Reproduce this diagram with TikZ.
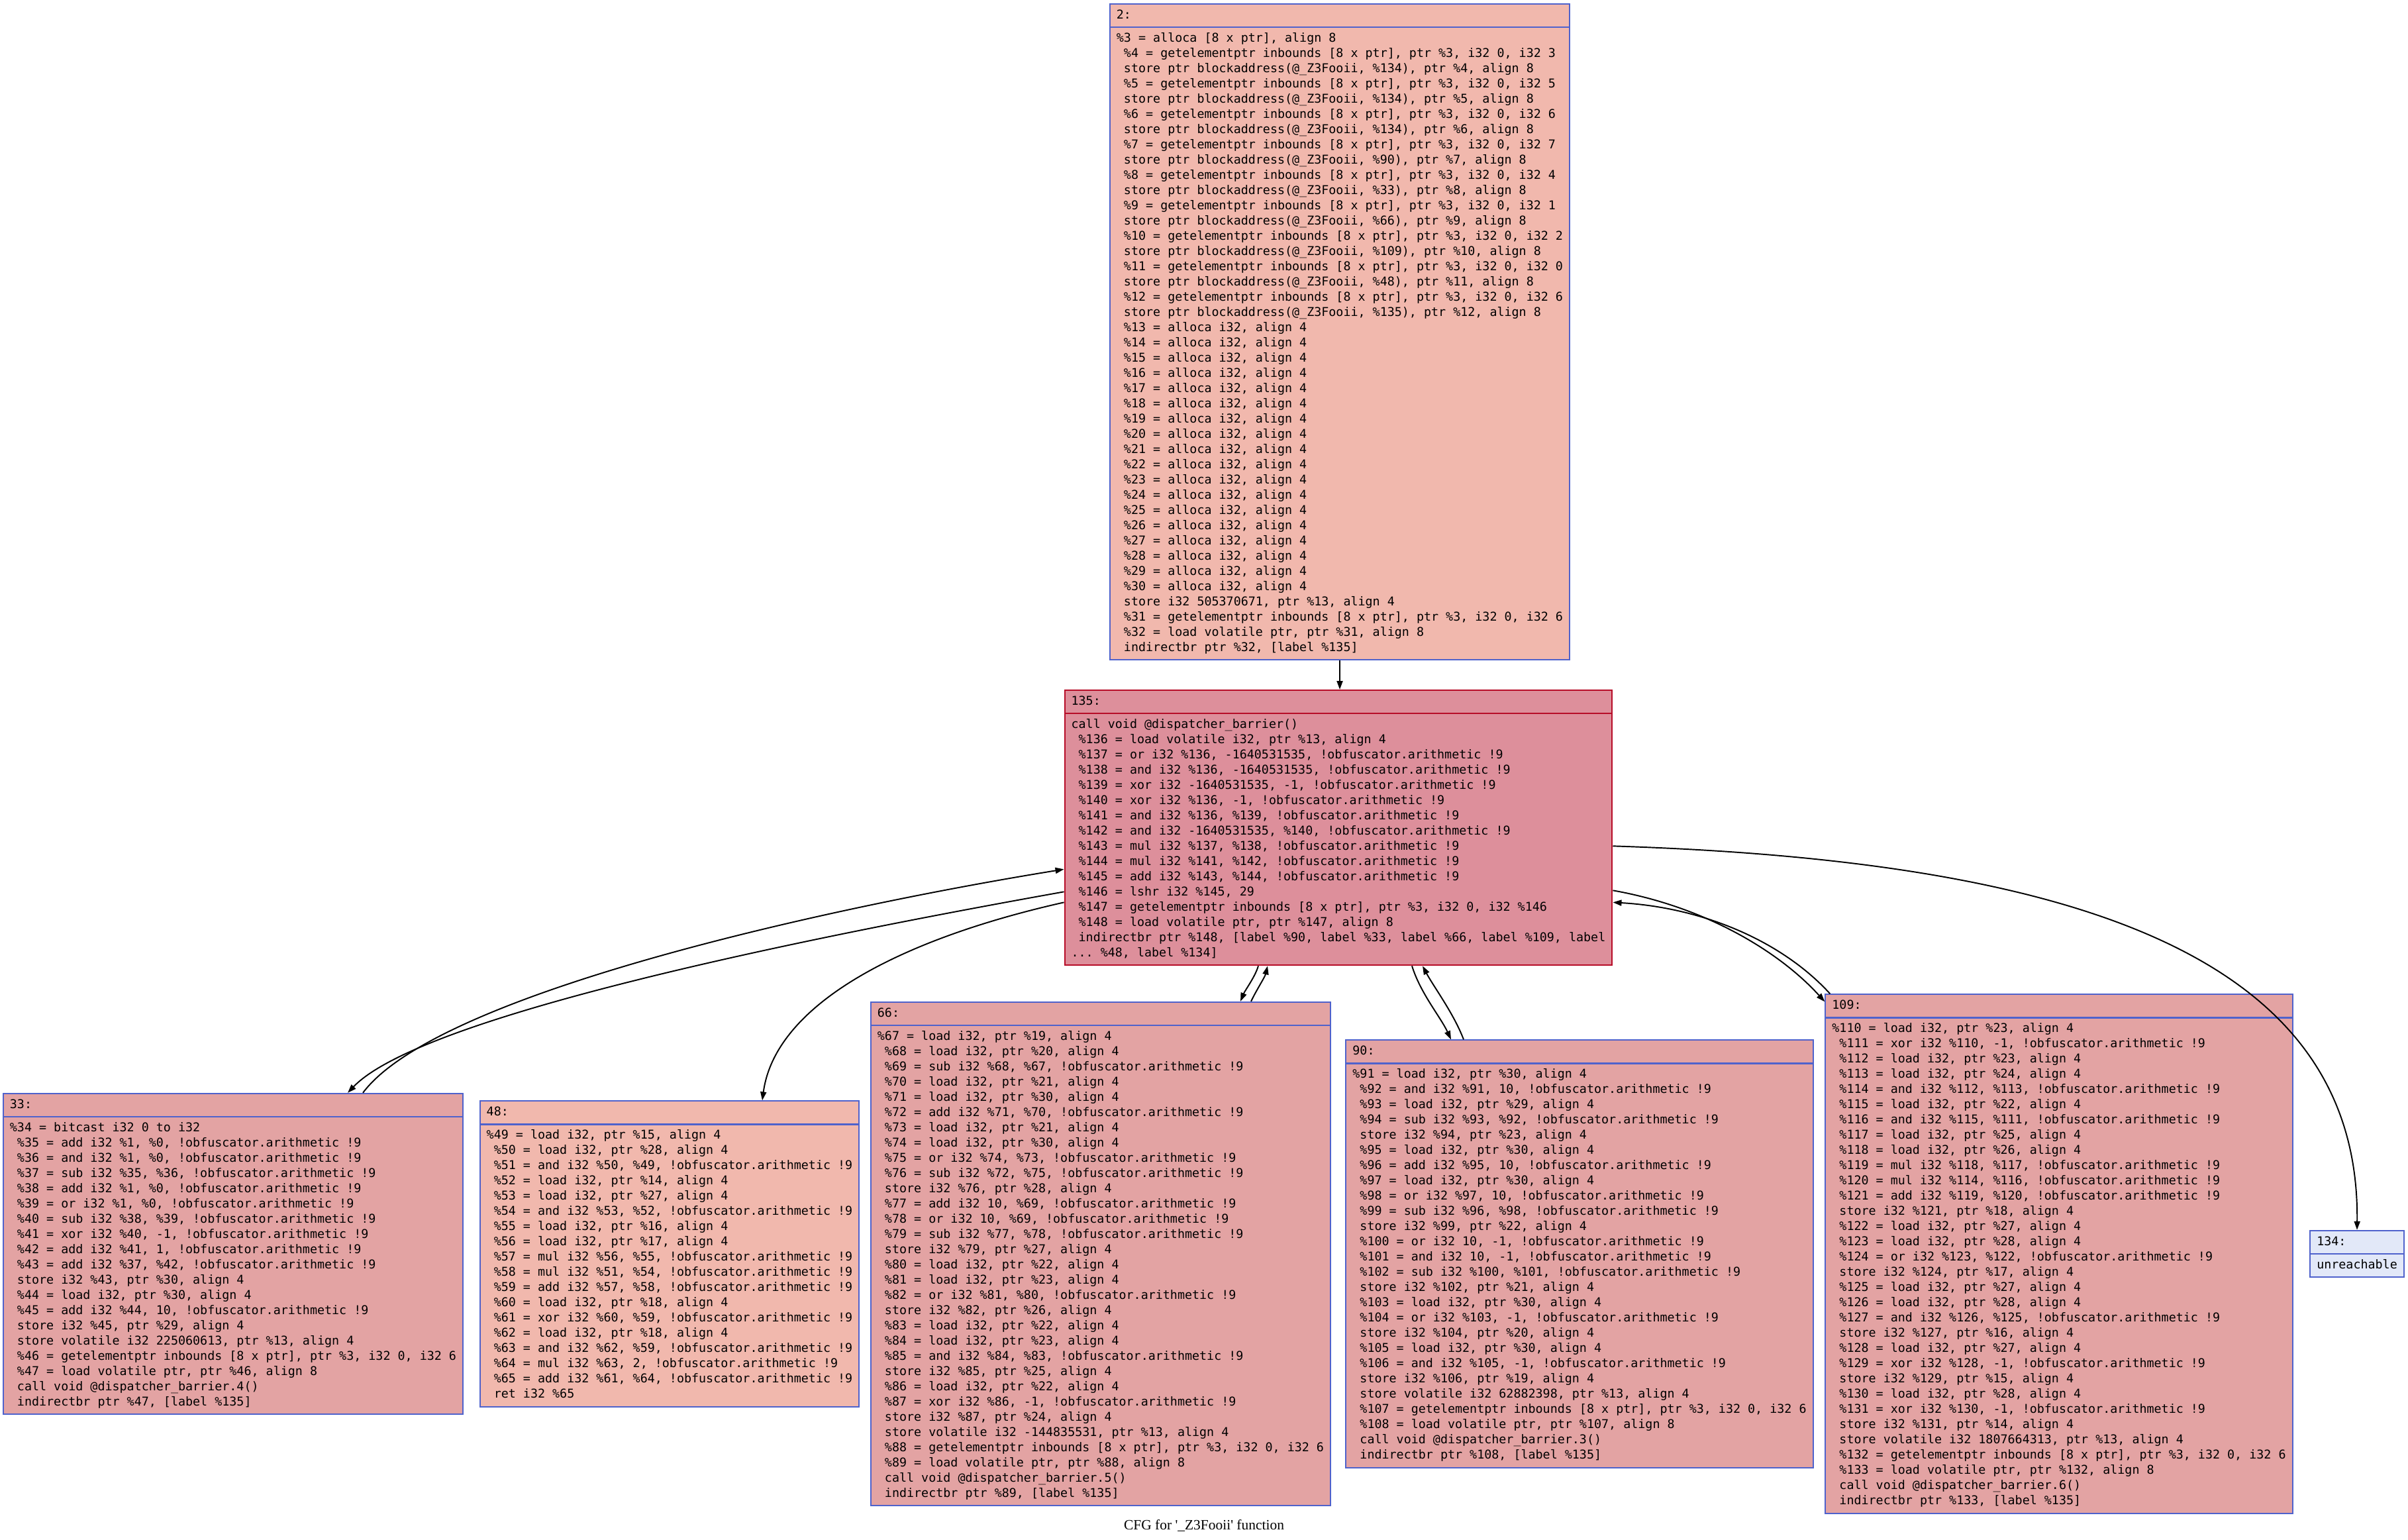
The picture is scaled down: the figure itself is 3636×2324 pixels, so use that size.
\documentclass[tikz,border=0pt]{standalone}
\usepackage{fontspec}
\setmonofont{DejaVu Sans Mono}
\newfontfamily\capfont{Liberation Serif}
\usetikzlibrary{shapes.multipart,arrows.meta,calc}
\definecolor{fillA}{HTML}{F1B8AD}
\definecolor{fillB}{HTML}{E3A3A3}
\definecolor{fillC}{HTML}{DD8F9B}
\definecolor{fillD}{HTML}{E2E8F8}
\definecolor{lineA}{HTML}{4F62CC}
\definecolor{lineC}{HTML}{B70D28}
\newcommand\irfont{\ttfamily\fontsize{5.22pt}{6.54pt}\selectfont}
\begin{document}
\begin{tikzpicture}[x=0.01cm,y=-0.01cm,
  bb/.style={rectangle split,rectangle split parts=2,rectangle split part align=left,
    align=left,draw=lineA,fill=#1,line width=0.6pt,inner xsep=0.1cm,inner ysep=0.05cm,font=\irfont},
  edge/.style={-{Triangle[length=0.13cm,width=0.09cm]},line width=0.55pt}]
\useasboundingbox (0,0) rectangle (3636,2324);
\node[bb=fillA,anchor=north] (b2) at (2023,5) {\strut 2:\nodepart{two}\strut\%3 = alloca [8 x ptr], align 8\\
\ \%4 = getelementptr inbounds [8 x ptr], ptr \%3, i32 0, i32 3\\
\ store ptr blockaddress(@\_Z3Fooii, \%134), ptr \%4, align 8\\
\ \%5 = getelementptr inbounds [8 x ptr], ptr \%3, i32 0, i32 5\\
\ store ptr blockaddress(@\_Z3Fooii, \%134), ptr \%5, align 8\\
\ \%6 = getelementptr inbounds [8 x ptr], ptr \%3, i32 0, i32 6\\
\ store ptr blockaddress(@\_Z3Fooii, \%134), ptr \%6, align 8\\
\ \%7 = getelementptr inbounds [8 x ptr], ptr \%3, i32 0, i32 7\\
\ store ptr blockaddress(@\_Z3Fooii, \%90), ptr \%7, align 8\\
\ \%8 = getelementptr inbounds [8 x ptr], ptr \%3, i32 0, i32 4\\
\ store ptr blockaddress(@\_Z3Fooii, \%33), ptr \%8, align 8\\
\ \%9 = getelementptr inbounds [8 x ptr], ptr \%3, i32 0, i32 1\\
\ store ptr blockaddress(@\_Z3Fooii, \%66), ptr \%9, align 8\\
\ \%10 = getelementptr inbounds [8 x ptr], ptr \%3, i32 0, i32 2\\
\ store ptr blockaddress(@\_Z3Fooii, \%109), ptr \%10, align 8\\
\ \%11 = getelementptr inbounds [8 x ptr], ptr \%3, i32 0, i32 0\\
\ store ptr blockaddress(@\_Z3Fooii, \%48), ptr \%11, align 8\\
\ \%12 = getelementptr inbounds [8 x ptr], ptr \%3, i32 0, i32 6\\
\ store ptr blockaddress(@\_Z3Fooii, \%135), ptr \%12, align 8\\
\ \%13 = alloca i32, align 4\\
\ \%14 = alloca i32, align 4\\
\ \%15 = alloca i32, align 4\\
\ \%16 = alloca i32, align 4\\
\ \%17 = alloca i32, align 4\\
\ \%18 = alloca i32, align 4\\
\ \%19 = alloca i32, align 4\\
\ \%20 = alloca i32, align 4\\
\ \%21 = alloca i32, align 4\\
\ \%22 = alloca i32, align 4\\
\ \%23 = alloca i32, align 4\\
\ \%24 = alloca i32, align 4\\
\ \%25 = alloca i32, align 4\\
\ \%26 = alloca i32, align 4\\
\ \%27 = alloca i32, align 4\\
\ \%28 = alloca i32, align 4\\
\ \%29 = alloca i32, align 4\\
\ \%30 = alloca i32, align 4\\
\ store i32 505370671, ptr \%13, align 4\\
\ \%31 = getelementptr inbounds [8 x ptr], ptr \%3, i32 0, i32 6\\
\ \%32 = load volatile ptr, ptr \%31, align 8\\
\ indirectbr ptr \%32, [label \%135]\strut};
\node[bb=fillC,draw=lineC,anchor=north] (b135) at (2021,1041) {\strut 135:\nodepart{two}\strut call void @dispatcher\_barrier()\\
\ \%136 = load volatile i32, ptr \%13, align 4\\
\ \%137 = or i32 \%136, -1640531535, !obfuscator.arithmetic !9\\
\ \%138 = and i32 \%136, -1640531535, !obfuscator.arithmetic !9\\
\ \%139 = xor i32 -1640531535, -1, !obfuscator.arithmetic !9\\
\ \%140 = xor i32 \%136, -1, !obfuscator.arithmetic !9\\
\ \%141 = and i32 \%136, \%139, !obfuscator.arithmetic !9\\
\ \%142 = and i32 -1640531535, \%140, !obfuscator.arithmetic !9\\
\ \%143 = mul i32 \%137, \%138, !obfuscator.arithmetic !9\\
\ \%144 = mul i32 \%141, \%142, !obfuscator.arithmetic !9\\
\ \%145 = add i32 \%143, \%144, !obfuscator.arithmetic !9\\
\ \%146 = lshr i32 \%145, 29\\
\ \%147 = getelementptr inbounds [8 x ptr], ptr \%3, i32 0, i32 \%146\\
\ \%148 = load volatile ptr, ptr \%147, align 8\\
\ indirectbr ptr \%148, [label \%90, label \%33, label \%66, label \%109, label\\
... \%48, label \%134]\strut};
\node[bb=fillB] (b33) at (352,1893) {\strut 33:\nodepart{two}\strut\%34 = bitcast i32 0 to i32\\
\ \%35 = add i32 \%1, \%0, !obfuscator.arithmetic !9\\
\ \%36 = and i32 \%1, \%0, !obfuscator.arithmetic !9\\
\ \%37 = sub i32 \%35, \%36, !obfuscator.arithmetic !9\\
\ \%38 = add i32 \%1, \%0, !obfuscator.arithmetic !9\\
\ \%39 = or i32 \%1, \%0, !obfuscator.arithmetic !9\\
\ \%40 = sub i32 \%38, \%39, !obfuscator.arithmetic !9\\
\ \%41 = xor i32 \%40, -1, !obfuscator.arithmetic !9\\
\ \%42 = add i32 \%41, 1, !obfuscator.arithmetic !9\\
\ \%43 = add i32 \%37, \%42, !obfuscator.arithmetic !9\\
\ store i32 \%43, ptr \%30, align 4\\
\ \%44 = load i32, ptr \%30, align 4\\
\ \%45 = add i32 \%44, 10, !obfuscator.arithmetic !9\\
\ store i32 \%45, ptr \%29, align 4\\
\ store volatile i32 225060613, ptr \%13, align 4\\
\ \%46 = getelementptr inbounds [8 x ptr], ptr \%3, i32 0, i32 6\\
\ \%47 = load volatile ptr, ptr \%46, align 8\\
\ call void @dispatcher\_barrier.4()\\
\ indirectbr ptr \%47, [label \%135]\strut};
\node[bb=fillA] (b48) at (1011,1893) {\strut 48:\nodepart{two}\strut\%49 = load i32, ptr \%15, align 4\\
\ \%50 = load i32, ptr \%28, align 4\\
\ \%51 = and i32 \%50, \%49, !obfuscator.arithmetic !9\\
\ \%52 = load i32, ptr \%14, align 4\\
\ \%53 = load i32, ptr \%27, align 4\\
\ \%54 = and i32 \%53, \%52, !obfuscator.arithmetic !9\\
\ \%55 = load i32, ptr \%16, align 4\\
\ \%56 = load i32, ptr \%17, align 4\\
\ \%57 = mul i32 \%56, \%55, !obfuscator.arithmetic !9\\
\ \%58 = mul i32 \%51, \%54, !obfuscator.arithmetic !9\\
\ \%59 = add i32 \%57, \%58, !obfuscator.arithmetic !9\\
\ \%60 = load i32, ptr \%18, align 4\\
\ \%61 = xor i32 \%60, \%59, !obfuscator.arithmetic !9\\
\ \%62 = load i32, ptr \%18, align 4\\
\ \%63 = and i32 \%62, \%59, !obfuscator.arithmetic !9\\
\ \%64 = mul i32 \%63, 2, !obfuscator.arithmetic !9\\
\ \%65 = add i32 \%61, \%64, !obfuscator.arithmetic !9\\
\ ret i32 \%65\strut};
\node[bb=fillB] (b66) at (1662,1893) {\strut 66:\nodepart{two}\strut\%67 = load i32, ptr \%19, align 4\\
\ \%68 = load i32, ptr \%20, align 4\\
\ \%69 = sub i32 \%68, \%67, !obfuscator.arithmetic !9\\
\ \%70 = load i32, ptr \%21, align 4\\
\ \%71 = load i32, ptr \%30, align 4\\
\ \%72 = add i32 \%71, \%70, !obfuscator.arithmetic !9\\
\ \%73 = load i32, ptr \%21, align 4\\
\ \%74 = load i32, ptr \%30, align 4\\
\ \%75 = or i32 \%74, \%73, !obfuscator.arithmetic !9\\
\ \%76 = sub i32 \%72, \%75, !obfuscator.arithmetic !9\\
\ store i32 \%76, ptr \%28, align 4\\
\ \%77 = add i32 10, \%69, !obfuscator.arithmetic !9\\
\ \%78 = or i32 10, \%69, !obfuscator.arithmetic !9\\
\ \%79 = sub i32 \%77, \%78, !obfuscator.arithmetic !9\\
\ store i32 \%79, ptr \%27, align 4\\
\ \%80 = load i32, ptr \%22, align 4\\
\ \%81 = load i32, ptr \%23, align 4\\
\ \%82 = or i32 \%81, \%80, !obfuscator.arithmetic !9\\
\ store i32 \%82, ptr \%26, align 4\\
\ \%83 = load i32, ptr \%22, align 4\\
\ \%84 = load i32, ptr \%23, align 4\\
\ \%85 = and i32 \%84, \%83, !obfuscator.arithmetic !9\\
\ store i32 \%85, ptr \%25, align 4\\
\ \%86 = load i32, ptr \%22, align 4\\
\ \%87 = xor i32 \%86, -1, !obfuscator.arithmetic !9\\
\ store i32 \%87, ptr \%24, align 4\\
\ store volatile i32 -144835531, ptr \%13, align 4\\
\ \%88 = getelementptr inbounds [8 x ptr], ptr \%3, i32 0, i32 6\\
\ \%89 = load volatile ptr, ptr \%88, align 8\\
\ call void @dispatcher\_barrier.5()\\
\ indirectbr ptr \%89, [label \%135]\strut};
\node[bb=fillB] (b90) at (2385,1893) {\strut 90:\nodepart{two}\strut\%91 = load i32, ptr \%30, align 4\\
\ \%92 = and i32 \%91, 10, !obfuscator.arithmetic !9\\
\ \%93 = load i32, ptr \%29, align 4\\
\ \%94 = sub i32 \%93, \%92, !obfuscator.arithmetic !9\\
\ store i32 \%94, ptr \%23, align 4\\
\ \%95 = load i32, ptr \%30, align 4\\
\ \%96 = add i32 \%95, 10, !obfuscator.arithmetic !9\\
\ \%97 = load i32, ptr \%30, align 4\\
\ \%98 = or i32 \%97, 10, !obfuscator.arithmetic !9\\
\ \%99 = sub i32 \%96, \%98, !obfuscator.arithmetic !9\\
\ store i32 \%99, ptr \%22, align 4\\
\ \%100 = or i32 10, -1, !obfuscator.arithmetic !9\\
\ \%101 = and i32 10, -1, !obfuscator.arithmetic !9\\
\ \%102 = sub i32 \%100, \%101, !obfuscator.arithmetic !9\\
\ store i32 \%102, ptr \%21, align 4\\
\ \%103 = load i32, ptr \%30, align 4\\
\ \%104 = or i32 \%103, -1, !obfuscator.arithmetic !9\\
\ store i32 \%104, ptr \%20, align 4\\
\ \%105 = load i32, ptr \%30, align 4\\
\ \%106 = and i32 \%105, -1, !obfuscator.arithmetic !9\\
\ store i32 \%106, ptr \%19, align 4\\
\ store volatile i32 62882398, ptr \%13, align 4\\
\ \%107 = getelementptr inbounds [8 x ptr], ptr \%3, i32 0, i32 6\\
\ \%108 = load volatile ptr, ptr \%107, align 8\\
\ call void @dispatcher\_barrier.3()\\
\ indirectbr ptr \%108, [label \%135]\strut};
\node[bb=fillB] (b109) at (3109,1893) {\strut 109:\nodepart{two}\strut\%110 = load i32, ptr \%23, align 4\\
\ \%111 = xor i32 \%110, -1, !obfuscator.arithmetic !9\\
\ \%112 = load i32, ptr \%23, align 4\\
\ \%113 = load i32, ptr \%24, align 4\\
\ \%114 = and i32 \%112, \%113, !obfuscator.arithmetic !9\\
\ \%115 = load i32, ptr \%22, align 4\\
\ \%116 = and i32 \%115, \%111, !obfuscator.arithmetic !9\\
\ \%117 = load i32, ptr \%25, align 4\\
\ \%118 = load i32, ptr \%26, align 4\\
\ \%119 = mul i32 \%118, \%117, !obfuscator.arithmetic !9\\
\ \%120 = mul i32 \%114, \%116, !obfuscator.arithmetic !9\\
\ \%121 = add i32 \%119, \%120, !obfuscator.arithmetic !9\\
\ store i32 \%121, ptr \%18, align 4\\
\ \%122 = load i32, ptr \%27, align 4\\
\ \%123 = load i32, ptr \%28, align 4\\
\ \%124 = or i32 \%123, \%122, !obfuscator.arithmetic !9\\
\ store i32 \%124, ptr \%17, align 4\\
\ \%125 = load i32, ptr \%27, align 4\\
\ \%126 = load i32, ptr \%28, align 4\\
\ \%127 = and i32 \%126, \%125, !obfuscator.arithmetic !9\\
\ store i32 \%127, ptr \%16, align 4\\
\ \%128 = load i32, ptr \%27, align 4\\
\ \%129 = xor i32 \%128, -1, !obfuscator.arithmetic !9\\
\ store i32 \%129, ptr \%15, align 4\\
\ \%130 = load i32, ptr \%28, align 4\\
\ \%131 = xor i32 \%130, -1, !obfuscator.arithmetic !9\\
\ store i32 \%131, ptr \%14, align 4\\
\ store volatile i32 1807664313, ptr \%13, align 4\\
\ \%132 = getelementptr inbounds [8 x ptr], ptr \%3, i32 0, i32 6\\
\ \%133 = load volatile ptr, ptr \%132, align 8\\
\ call void @dispatcher\_barrier.6()\\
\ indirectbr ptr \%133, [label \%135]\strut};
\node[bb=fillD] (b134) at (3559,1893) {\strut 134:\nodepart{two}\strut unreachable\strut};
\node[font=\capfont\fontsize{6.1pt}{7pt}\selectfont] (cap) at (1818,2303) {CFG for \textquotesingle\_Z3Fooii\textquotesingle\ function};
\draw[edge] (b2.south) -- (b2.south |- b135.north);
\draw[edge] ($(b135.south west)+(0,-112)$) .. controls (1250,1410) and (640,1530) .. ($(b33.north)+(173,0)$);
\draw[edge] ($(b33.north)+(196,0)$) .. controls (660,1500) and (1250,1370) .. ($(b135.south west)+(0,-146)$);
\draw[edge] ($(b135.south west)+(0,-96)$) .. controls (1350,1420) and (1170,1520) .. ($(b48.north)+(140,0)$);
\draw[edge] ($(b135.south)+(-121,0)$) .. controls (1895,1475) and (1880,1495) .. ($(b66.north)+(211,0)$);
\draw[edge] ($(b66.north)+(227,0)$) .. controls (1897,1495) and (1910,1475) .. ($(b135.south)+(-107,0)$);
\draw[edge] ($(b135.south)+(111,0)$) .. controls (2145,1500) and (2175,1535) .. ($(b90.north)+(-194,0)$);
\draw[edge] ($(b90.north)+(-175,0)$) .. controls (2195,1530) and (2165,1490) .. ($(b135.south)+(127,0)$);
\draw[edge] ($(b135.south east)+(0,-114)$) .. controls (2580,1370) and (2690,1440) .. ($(b109.north west)+(0,12)$);
\draw[edge] ($(b109.north west)+(8,0)$) .. controls (2690,1420) and (2570,1370) .. ($(b135.south east)+(0,-96)$);
\draw[edge] ($(b135.south east)+(0,-181)$) .. controls (3150,1300) and (3564,1450) .. (b134.north);
\end{tikzpicture}
\end{document}
